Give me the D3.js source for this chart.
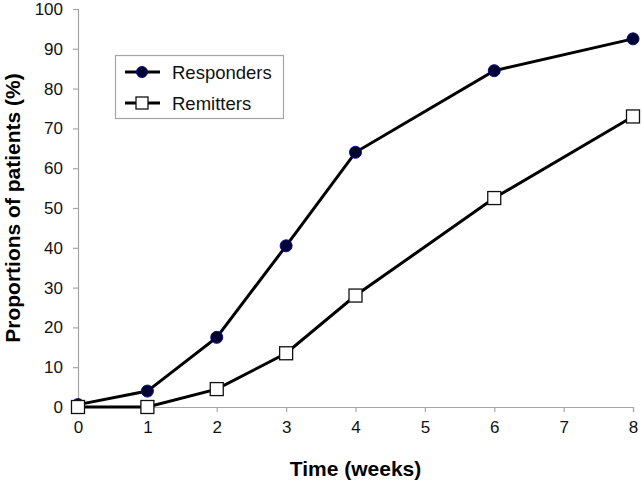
<!DOCTYPE html>
<html>
<head>
<meta charset="utf-8">
<script src="https://cdn.jsdelivr.net/npm/d3@7"></script>
<style>
  body { margin: 0; background: #fff; }
  svg { display: block; font-family: "Liberation Sans", Arial, sans-serif; }
</style>
</head>
<body>
<div id="chart"></div>
<script>
// data
const weeks = [0, 1, 2, 3, 4, 6, 8];
const responders = [0.6, 4, 17.5, 40.5, 64, 84.5, 92.5];
const remitters = [0, 0, 4.5, 13.5, 28, 52.5, 73];
const xTicks = [0, 1, 2, 3, 4, 5, 6, 7, 8];
const yTicks = [0, 10, 20, 30, 40, 50, 60, 70, 80, 90, 100];
const seriesNames = ["Responders", "Remitters"];

{
  const W = 642, H = 482;
  const margin = { top: 9, right: 9, bottom: 75, left: 78 };

  const svg = d3.select('#chart').append('svg')
    .attr('width', W).attr('height', H);

  const x = d3.scaleLinear().domain([0, 8]).range([margin.left, W - margin.right]);
  const y = d3.scaleLinear().domain([0, 100]).range([H - margin.bottom, margin.top]);

  // axes
  const xAxis = svg.append('g')
    .attr('transform', `translate(0,${H - margin.bottom})`)
    .call(d3.axisBottom(x).tickValues(xTicks).tickSize(5).tickPadding(9).tickFormat(d3.format('d')));
  const yAxis = svg.append('g')
    .attr('transform', `translate(${margin.left},0)`)
    .call(d3.axisLeft(y).tickValues(yTicks).tickSize(5).tickPadding(10).tickFormat(d3.format('d')));

  [xAxis, yAxis].forEach(a => {
    a.select('.domain').attr('stroke', '#a6a6a6').attr('stroke-width', 1.2);
    a.selectAll('.tick line').attr('stroke', '#a6a6a6').attr('stroke-width', 1.2);
    a.selectAll('.tick text').attr('fill', '#111').style('font-size', '17px')
      .style('font-family', '"Liberation Sans", Arial, sans-serif');
  });

  // axis titles
  svg.append('text')
    .attr('x', (x(0) + x(8)) / 2).attr('y', 476)
    .attr('text-anchor', 'middle')
    .style('font-size', '21px').style('font-weight', 'bold')
    .text('Time (weeks)');

  svg.append('text')
    .attr('transform', 'translate(20,208) rotate(-90)')
    .attr('text-anchor', 'middle')
    .style('font-size', '21px').style('font-weight', 'bold')
    .text('Proportions of patients (%)');

  const line = d3.line()
    .x(d => x(d[0]))
    .y(d => y(d[1]));

  const respData = weeks.map((w, i) => [w, responders[i]]);
  const remData = weeks.map((w, i) => [w, remitters[i]]);

  // responders
  svg.append('path').datum(respData)
    .attr('d', line).attr('fill', 'none')
    .attr('stroke', '#000').attr('stroke-width', 3);
  svg.selectAll('circle.resp').data(respData).enter().append('circle')
    .classed('resp', true)
    .attr('cx', d => x(d[0])).attr('cy', d => y(d[1]))
    .attr('r', 6)
    .attr('fill', '#000033').attr('stroke', '#0a0a8c').attr('stroke-width', 1);

  // remitters
  svg.append('path').datum(remData)
    .attr('d', line).attr('fill', 'none')
    .attr('stroke', '#000').attr('stroke-width', 3);
  const sq = 13;
  svg.selectAll('rect.rem').data(remData).enter().append('rect')
    .classed('rem', true)
    .attr('x', d => x(d[0]) - sq / 2).attr('y', d => y(d[1]) - sq / 2)
    .attr('width', sq).attr('height', sq)
    .attr('fill', '#fff').attr('stroke', '#111').attr('stroke-width', 1.3);

  // legend
  const lg = svg.append('g');
  lg.append('rect')
    .attr('x', 115.5).attr('y', 55.5).attr('width', 168).attr('height', 63)
    .attr('fill', '#fff').attr('stroke', '#a6a6a6').attr('stroke-width', 1.2);

  seriesNames.forEach((name, i) => {
    const cy = 72 + i * 31;
    lg.append('line')
      .attr('x1', 125).attr('x2', 160).attr('y1', cy).attr('y2', cy)
      .attr('stroke', '#000').attr('stroke-width', 3);
    if (i === 0) {
      lg.append('circle').attr('cx', 142).attr('cy', cy).attr('r', 5.5)
        .attr('fill', '#000033').attr('stroke', '#0a0a8c').attr('stroke-width', 1);
    } else {
      lg.append('rect').attr('x', 142 - 6).attr('y', cy - 6).attr('width', 12).attr('height', 12)
        .attr('fill', '#fff').attr('stroke', '#111').attr('stroke-width', 1.3);
    }
    lg.append('text')
      .attr('x', 172).attr('y', cy + 6.5)
      .style('font-size', '18.5px').attr('fill', '#111')
      .text(name);
  });
}
</script>
</body>
</html>
